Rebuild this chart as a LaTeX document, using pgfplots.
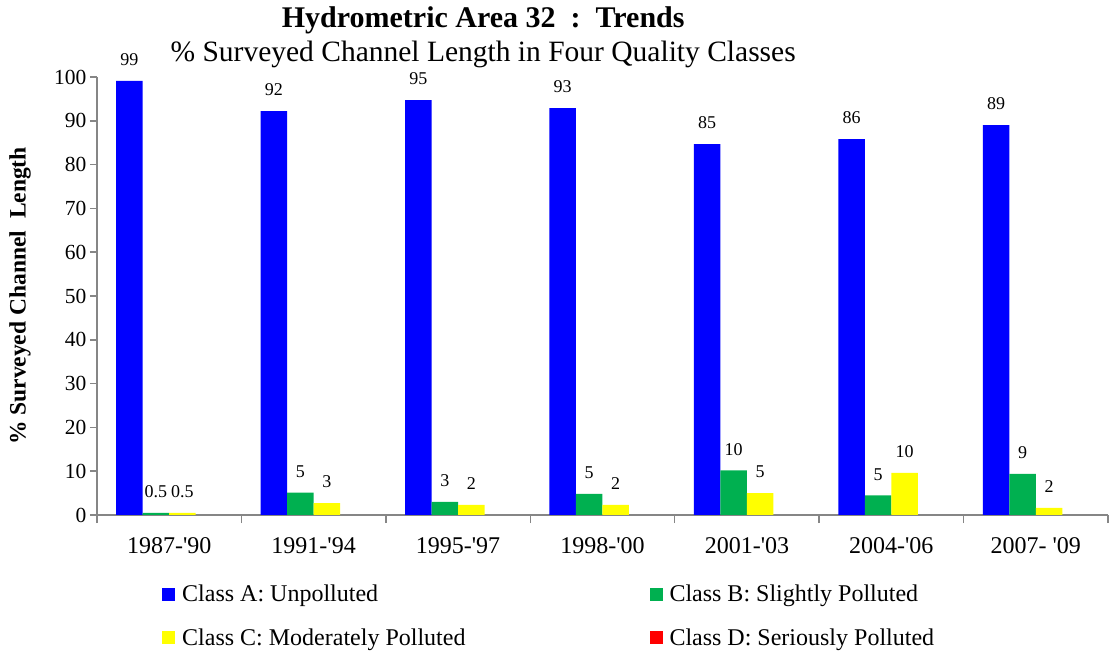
\documentclass[border=0pt]{standalone}
\usepackage{fontspec}
\setmainfont{Liberation Serif}
\usepackage{pgfplots}
\pgfplotsset{compat=1.18}
\definecolor{cA}{RGB}{0,0,255}
\definecolor{cB}{RGB}{0,176,80}
\definecolor{cC}{RGB}{255,255,0}
\definecolor{cD}{RGB}{255,0,0}
\definecolor{axgray}{RGB}{134,134,134}
\begin{document}
\begin{tikzpicture}
\useasboundingbox (-97pt,-140pt) rectangle (1013pt,515pt);
\begin{axis}[
  at={(0pt,0pt)}, anchor=south west,
  scale only axis, width=1011pt, height=438pt,
  xmin=-0.5, xmax=6.5, ymin=0, ymax=100,
  ybar=0pt, bar width=26.5pt,
  axis x line=bottom, axis y line=left,
  axis line style={axgray, line width=1.5pt, -},
  xtick={0,...,6},
  xticklabels={1987-\textquotesingle90, 1991-\textquotesingle94, 1995-\textquotesingle97, 1998-\textquotesingle00, 2001-\textquotesingle03, 2004-\textquotesingle06, 2007- \textquotesingle09},
  minor xtick={-0.5,0.5,...,6.5},
  ytick={0,10,...,100},
  tick align=outside,
  major tick length=7pt, minor tick length=8pt,
  tick style={axgray, line width=1.5pt},
  major x tick style={draw=none},
  /pgf/number format/assume math mode=true,
  yticklabel style={font=\fontsize{21.5}{21.5}\selectfont},
  xticklabel style={font=\fontsize{24}{24}\selectfont, yshift=-12pt},
  ylabel={\% Surveyed Channel\ \ Length},
  ylabel style={font=\bfseries\fontsize{23.5}{24}\selectfont, at={(axis description cs:-0.0762,0.5)}, anchor=center},
  title={\textbf{\fontsize{30}{34}\selectfont Hydrometric Area 32\ \ :\ \ Trends}\\\% Surveyed Channel Length in Four Quality Classes},
  title style={font=\fontsize{29.5}{34}\selectfont, align=center, at={(axis description cs:0.382,1)}, anchor=south, yshift=0pt},
  every node near coord/.append style={font=\fontsize{18}{18}\selectfont, black, yshift=11.5pt},
  legend columns=2,
  legend cell align=left,
  legend image code/.code={\draw[#1,draw=none] (0pt,-6.5pt) rectangle (13pt,6.5pt); \path (17pt,0pt);},
  legend style={draw=none, fill=none, font=\fontsize{24}{24}\selectfont,
    at={(axis description cs:0,0)}, anchor=north west, xshift=62pt, yshift=-65pt,
    row sep=19pt, nodes={inner sep=3pt},
    /tikz/every even column/.append style={column sep=181pt}},
]
\addplot[fill=cA, draw=none, bar shift=-39.75pt, nodes near coords, point meta=explicit symbolic] coordinates {
  (0,99.1) [99] (1,92.2) [92] (2,94.7) [95] (3,92.9) [93] (4,84.7) [85] (5,85.8) [86] (6,89.0) [89]};
\addplot[fill=cB, draw=none, bar shift=-13.25pt, nodes near coords, point meta=explicit symbolic] coordinates {
  (0,0.5) [0.5] (1,5.1) [5] (2,3.0) [3] (3,4.8) [5] (4,10.2) [10] (5,4.5) [5] (6,9.4) [9]};
\addplot[fill=cC, draw=none, bar shift=13.25pt, nodes near coords, point meta=explicit symbolic] coordinates {
  (0,0.5) [0.5] (1,2.7) [3] (2,2.3) [2] (3,2.3) [2] (4,5.0) [5] (5,9.6) [10] (6,1.6) [2]};
\addlegendimage{fill=cD, draw=none}
\legend{Class A: Unpolluted, Class B: Slightly Polluted, Class C: Moderately Polluted, Class D: Seriously Polluted}
\end{axis}
\end{tikzpicture}
\end{document}
